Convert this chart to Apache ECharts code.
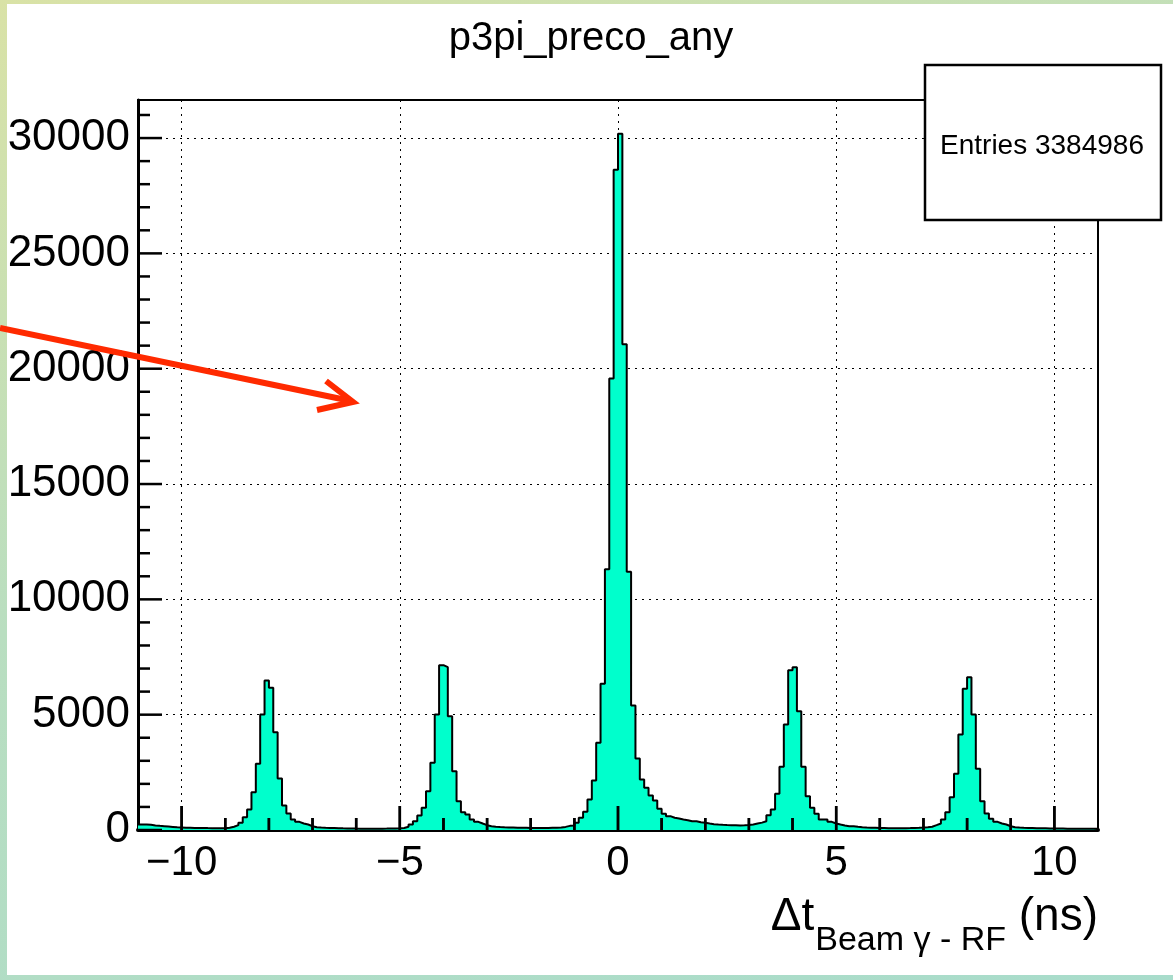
<!DOCTYPE html>
<html>
<head>
<meta charset="utf-8">
<title>p3pi_preco_any</title>
<script src="https://cdn.jsdelivr.net/npm/echarts@6.0.0/dist/echarts.min.js"></script>
<style>
  html, body { margin: 0; padding: 0; }
  body {
    width: 1173px; height: 980px; position: relative; overflow: hidden;
    background: linear-gradient(160deg, #d9e2a6 0%, #b9dec0 45%, #a8dccb 100%);
  }
  #paper { position: absolute; left: 7px; top: 4px; width: 1166px; height: 971px; background: #fff; }
  #chart { position: absolute; left: 0; top: 0; width: 1173px; height: 980px; }
</style>
</head>
<body>
<div id="paper"></div>
<div id="chart"></div>
<script>
// histogram binning (ns)
const xMin = -11
const xMax = 11
const binWidth = 0.1

// counts per 0.1 ns bin, one row per ns
const counts = [
  240, 235, 225, 200, 180, 165, 150, 135, 120, 110,        // -11 .. -10
  100, 95, 90, 88, 85, 82, 80, 78, 75, 72,                 // -10 .. -9
  95, 140, 210, 312, 555, 890, 1640, 2870, 5010, 6480,     // -9 .. -8
  6165, 4240, 2230, 1060, 715, 455, 355, 282, 238, 165,    // -8 .. -7
  121, 110, 100, 92, 85, 78, 72, 68, 64, 60,               // -7 .. -6
  58, 56, 55, 55, 56, 58, 60, 64, 70, 75,                  // -6 .. -5
  85, 139, 238, 382, 629, 962, 1682, 2913, 5008, 7145,     // -5 .. -4
  7060, 4935, 2550, 1250, 772, 672, 455, 355, 282, 210,    // -4 .. -3
  165, 145, 130, 120, 112, 106, 100, 96, 93, 90,           // -3 .. -2
  85, 85, 88, 90, 95, 100, 110, 135, 180, 200,             // -2 .. -1
  312, 529, 789, 1322, 2146, 3780, 6340, 11300, 19580, 28630, // -1 .. 0
  30190, 21060, 11200, 5400, 3100, 2190, 1830, 1500, 1280, 920, // 0 .. 1
  702, 600, 529, 500, 455, 425, 382, 382, 338, 312,        // 1 .. 2
  282, 253, 238, 225, 215, 210, 205, 200, 205, 215,        // 2 .. 3
  240, 280, 320, 382, 642, 890, 1570, 2740, 4575, 6930,    // 3 .. 4
  7060, 5150, 2740, 1466, 962, 702, 455, 455, 355, 282,    // 4 .. 5
  238, 195, 165, 165, 140, 120, 108, 100, 95, 90,          // 5 .. 6
  85, 80, 78, 76, 76, 78, 82, 88, 95, 105,                 // 6 .. 7
  120, 139, 210, 282, 455, 772, 1422, 2437, 4140, 6120,    // 7 .. 8
  6625, 5008, 2653, 1250, 715, 484, 355, 282, 238, 165,    // 8 .. 9
  121, 105, 95, 90, 85, 80, 76, 72, 68, 65,                // 9 .. 10
  62, 60, 58, 56, 55, 54, 53, 52, 50, 50                   // 10 .. 11
]

const xMajorTicks = [-10, -5, 0, 5, 10]
const xTicks = [-10, -9, -8, -7, -6, -5, -4, -3, -2, -1, 0, 1, 2, 3, 4, 5, 6, 7, 8, 9, 10]
const yTicks = [0, 1000, 2000, 3000, 4000, 5000, 6000, 7000, 8000, 9000, 10000,
  11000, 12000, 13000, 14000, 15000, 16000, 17000, 18000, 19000, 20000,
  21000, 22000, 23000, 24000, 25000, 26000, 27000, 28000, 29000, 30000, 31000]
const yMax = 31650
const yMajorStep = 5000
const titleText = 'p3pi_preco_any'
const entriesText = 'Entries 3384986'

const FONT = "'Liberation Sans', Arial, Helvetica, sans-serif"

// step 'end': each point holds its value until the next bin edge
const histData = counts.map((c, i) => [+(xMin + i * binWidth).toFixed(2), c])
histData.push([xMax, counts[counts.length - 1]])

const chart = echarts.init(document.getElementById('chart'), null, { renderer: 'canvas' })

const dotted = { color: '#000', width: 1, type: [2, 5] }
const tickLen = major => (major ? 24 : 12)

// y ticks: drawn inward from the left axis
function yTickItem(params, api) {
  const v = api.value(0)
  const len = tickLen(Math.abs(v % yMajorStep) < 1e-9)
  const p = api.coord([xMin, v])
  return { type: 'line', shape: { x1: p[0], y1: p[1], x2: p[0] + len, y2: p[1] }, style: { stroke: '#000', lineWidth: 2.5 } }
}

// x ticks: drawn inward from the bottom axis
function xTickItem(params, api) {
  const v = api.value(0)
  const len = tickLen(xMajorTicks.includes(v))
  const p = api.coord([v, api.value(1)])
  return { type: 'rect', shape: { x: p[0] - 1.25, y: p[1] - len, width: 2.5, height: len }, style: { fill: '#000' } }
}

const staticGraphics = [
  // stats box
  {
    type: 'rect', z: 100,
    shape: { x: 925, y: 65, width: 236, height: 155 },
    style: { fill: '#fff', stroke: '#000', lineWidth: 2.5 }
  },
  {
    type: 'text', z: 101, x: 1042, y: 146,
    style: { text: entriesText, fontFamily: FONT, fontSize: 28, fill: '#000', align: 'center', verticalAlign: 'middle' }
  },
  // x axis title
  {
    type: 'text', z: 101, x: 1098, y: 894,
    style: {
      text: '{a|\u0394t}{b|Beam \u03b3 - RF}{a| (ns)}',
      align: 'right', verticalAlign: 'top',
      rich: {
        a: { fontFamily: FONT, fontSize: 46, lineHeight: 46, verticalAlign: 'top', fill: '#000' },
        b: { fontFamily: FONT, fontSize: 34, lineHeight: 34, verticalAlign: 'top', padding: [30, 0, 0, 1], fill: '#000' }
      }
    }
  },
  // red annotation arrow
  {
    type: 'polyline', z: 102,
    shape: { points: [[0, 328], [351, 401]] },
    style: { stroke: '#ff2a00', lineWidth: 6, fill: null }
  },
  {
    type: 'polyline', z: 102,
    shape: { points: [[326, 381], [353, 402], [317, 410]] },
    style: { stroke: '#ff2a00', lineWidth: 6, fill: null, lineJoin: 'miter' }
  }
]

chart.setOption({
  animation: false,
  textStyle: { fontFamily: FONT },
  title: {
    text: titleText,
    left: 591,
    textAlign: 'center',
    top: 19,
    padding: 0,
    textStyle: { fontFamily: FONT, fontSize: 40, fontWeight: 'normal', color: '#000' }
  },
  grid: {
    left: 138, right: 75, top: 100, bottom: 150,
    containLabel: false,
    outerBoundsMode: 'none',
    show: true, borderColor: '#000', borderWidth: 2, backgroundColor: 'transparent'
  },
  xAxis: {
    type: 'value', min: xMin, max: xMax,
    axisLine: { show: true, onZero: false, lineStyle: { color: '#000', width: 4 } },
    axisTick: { show: false, customValues: xMajorTicks },
    axisLabel: {
      customValues: xMajorTicks,
      margin: 12, fontSize: 42, color: '#000', fontFamily: FONT,
      formatter: v => String(v).replace('-', '\u2212')
    },
    splitLine: { show: true, lineStyle: dotted }
  },
  yAxis: {
    type: 'value', min: 0, max: yMax, interval: yMajorStep,
    axisLine: { show: true, onZero: false, lineStyle: { color: '#000', width: 3 } },
    axisTick: { show: false },
    axisLabel: {
      margin: 8, fontSize: 44, color: '#000', fontFamily: FONT, showMaxLabel: false,
      formatter: v => String(v)
    },
    splitLine: { show: true, lineStyle: dotted }
  },
  series: [
    {
      name: titleText,
      type: 'line',
      step: 'end',
      data: histData,
      showSymbol: false,
      z: 3,
      lineStyle: { color: '#000', width: 2 },
      areaStyle: { color: '#00ffcc', opacity: 1 }
    },
    {
      type: 'custom', name: 'yticks', z: 5, silent: true, clip: false,
      data: yTicks.map(v => [v]),
      encode: { x: -1, y: 0 },
      renderItem: yTickItem
    },
    {
      type: 'custom', name: 'xticks', z: 5, silent: true, clip: false,
      data: xTicks.map(v => [v, 0]),
      encode: { x: 0, y: 1 },
      renderItem: xTickItem
    }
  ],
  graphic: staticGraphics
})

// x ticks again as graphic lines placed through the axis scale
const xTickGraphics = xTicks.map(v => {
  const p = chart.convertToPixel({ gridIndex: 0 }, [v, 0])
  const len = tickLen(xMajorTicks.includes(v))
  return {
    type: 'line', z: 90, silent: true,
    shape: { x1: p[0], y1: p[1], x2: p[0], y2: p[1] - len },
    style: { stroke: '#000', lineWidth: 2.5 }
  }
})
chart.setOption({
  graphic: [...staticGraphics, ...xTickGraphics,
    { type: 'text', z: 1, x: 0, y: 0, style: { text: ' ', fontSize: 1, fill: '#fff' } }]
})
</script>
</body>
</html>
